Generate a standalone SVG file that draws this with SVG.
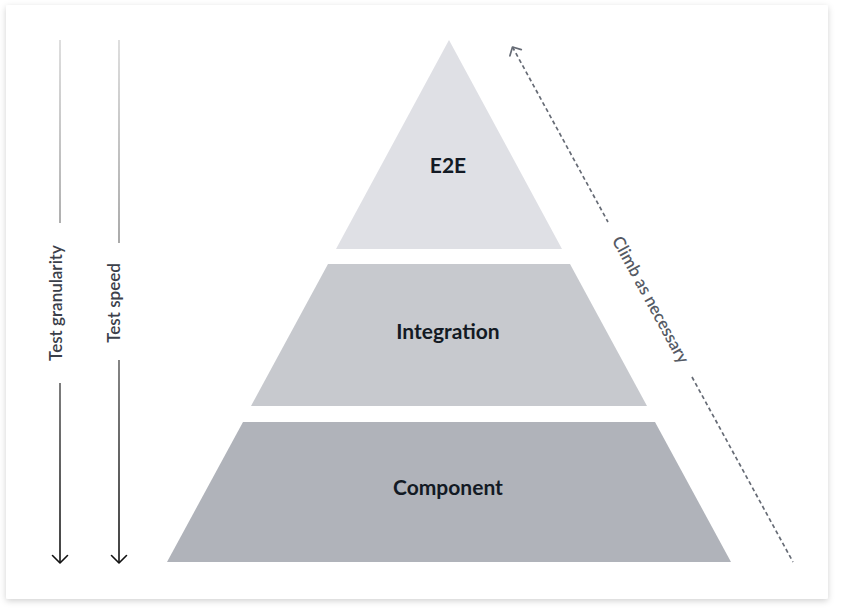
<svg xmlns="http://www.w3.org/2000/svg" width="844" height="615" viewBox="0 0 844 615">
  <defs>
    <filter id="shadow" x="-5%" y="-5%" width="110%" height="110%">
      <feDropShadow dx="0" dy="2" stdDeviation="3" flood-color="#000" flood-opacity="0.18"/>
    </filter>
    <linearGradient id="axisGrad" gradientUnits="userSpaceOnUse" x1="0" y1="40" x2="0" y2="563">
      <stop offset="0" stop-color="#d6d6d6"/>
      <stop offset="0.45" stop-color="#8a8a8a"/>
      <stop offset="1" stop-color="#111111"/>
    </linearGradient>
    <marker id="downHead" markerUnits="userSpaceOnUse" markerWidth="20" markerHeight="20" refX="10" refY="10" orient="auto" viewBox="0 0 20 20">
      <polyline points="2.5,2.5 10,10 2.5,17.5" fill="none" stroke="#111" stroke-width="1.6" stroke-linecap="round" stroke-linejoin="round"/>
    </marker>
    <marker id="dashHead" markerUnits="userSpaceOnUse" markerWidth="20" markerHeight="20" refX="10" refY="10" orient="auto-start-reverse" viewBox="0 0 20 20">
      <polyline points="3.5,3.5 10,10 3.5,16.5" fill="none" stroke="#666b75" stroke-width="1.7" stroke-linecap="round" stroke-linejoin="round"/>
    </marker>
  </defs>
  <style>
    .label { font-family: Lato, "Noto Sans", "Liberation Sans", sans-serif; font-weight: 700; font-size: 21px; fill: #131a24; text-anchor: middle; }
    .axis-text { font-family: Lato, "Noto Sans", "Liberation Sans", sans-serif; font-weight: 600; font-size: 17px; fill: #3b404a; text-anchor: middle; }
    .climb-text { font-family: Lato, "Noto Sans", "Liberation Sans", sans-serif; font-weight: 600; font-size: 17px; fill: #555a64; text-anchor: middle; }
    .axis { fill: none; stroke: url(#axisGrad); stroke-width: 1.6; }
    .dash { fill: none; stroke: #666b75; stroke-width: 1.7; stroke-dasharray: 4 3; }
  </style>

  <rect width="844" height="615" fill="#ffffff"/>
  <rect id="card" x="6" y="5" width="822" height="594" rx="2" fill="#ffffff" filter="url(#shadow)"/>

  <g id="e2e">
    <polygon points="449,40 562,249 336,249" fill="#dfe0e5"/>
    <text class="label" x="448" y="173">E2E</text>
  </g>
  <g id="integration">
    <polygon points="328,264 570,264 647,406 251,406" fill="#c7c9ce"/>
    <text class="label" x="448" y="339">Integration</text>
  </g>
  <g id="component">
    <polygon points="243,422 655,422 731,562 167,562" fill="#b0b3ba"/>
    <text class="label" x="448" y="495">Component</text>
  </g>

  <g id="connectors">
    <g id="granularity-axis">
      <line class="axis" x1="60" y1="40" x2="60" y2="223"/>
      <line class="axis" x1="60" y1="383" x2="60" y2="563" marker-end="url(#downHead)"/>
    </g>
    <g id="speed-axis">
      <line class="axis" x1="119" y1="40" x2="119" y2="243"/>
      <line class="axis" x1="119" y1="360" x2="119" y2="563" marker-end="url(#downHead)"/>
    </g>
    <g id="climb-arrow">
      <line class="dash" x1="512.5" y1="47" x2="608" y2="222" marker-start="url(#dashHead)"/>
      <line class="dash" x1="692" y1="377" x2="793" y2="562"/>
    </g>
  </g>

  <g id="labels">
    <text class="axis-text" transform="translate(62,303) rotate(-90)" x="0" y="0">Test granularity</text>
    <text class="axis-text" transform="translate(120,303) rotate(-90)" x="0" y="0">Test speed</text>
    <text class="climb-text" transform="translate(645.5,302.5) rotate(61.4)" x="0" y="0">Climb as necessary</text>
  </g>
</svg>
